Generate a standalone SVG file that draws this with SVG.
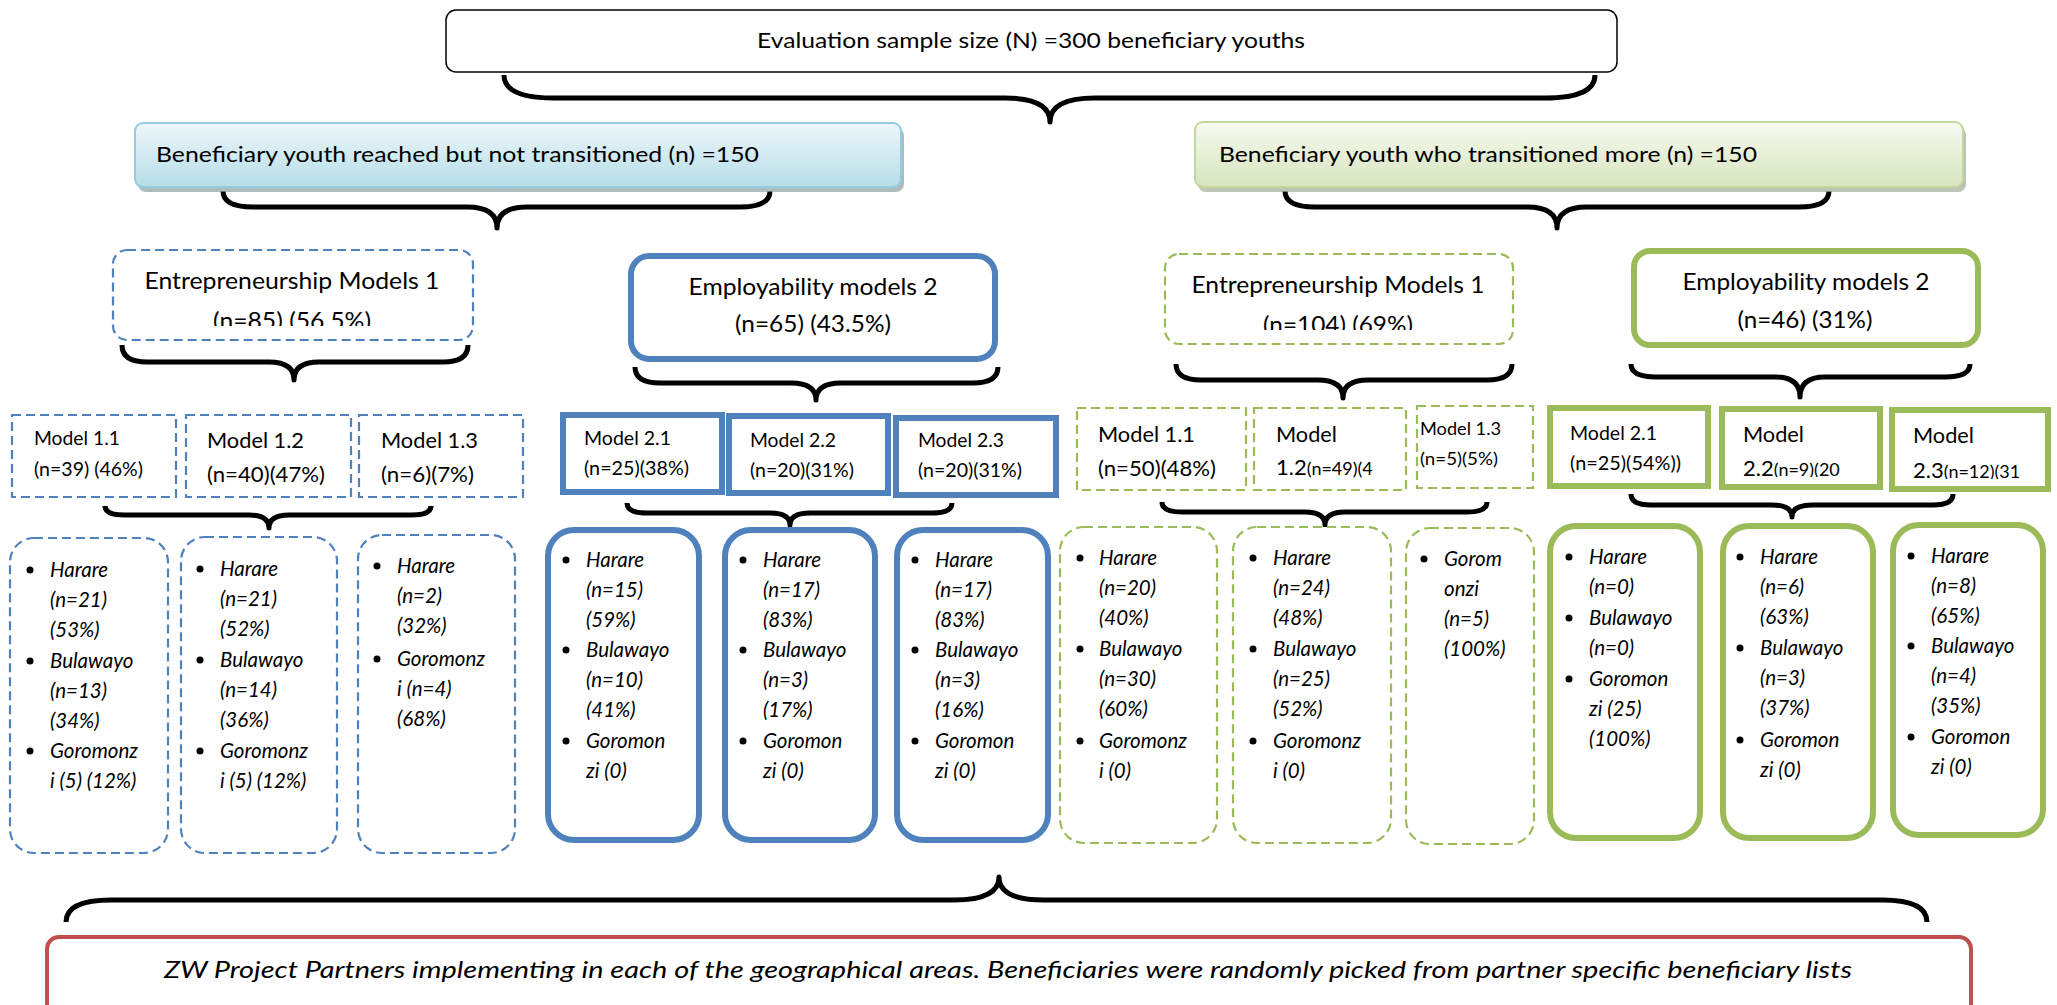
<svg xmlns="http://www.w3.org/2000/svg" width="2057" height="1005" viewBox="0 0 2057 1005">
  <style>
    text { font-family: Lato, "Liberation Sans", sans-serif; fill: #000; }
    .t23 { font-size: 22px; }
    .t26 { font-size: 24px; }
    .m21 { font-size: 19.5px; }
    .m23 { font-size: 22px; }
    .m19 { font-size: 18px; }
    .leaf { font-size: 20.5px; font-style: italic; }
    .foot { font-size: 24px; font-style: italic; }
    .mid { text-anchor: middle; }
    .brace { fill: none; stroke: #000; stroke-width: 5; stroke-linejoin: round; }
    .blue-dash { fill: #fff; stroke: #4f81bd; stroke-width: 2.2; stroke-dasharray: 9 5; }
    .blue-solid { fill: #fff; stroke: #4f81bd; stroke-width: 6; }
    .green-dash { fill: #fff; stroke: #9bbb59; stroke-width: 2.2; stroke-dasharray: 9 5; }
    .green-solid { fill: #fff; stroke: #9bbb59; stroke-width: 6; }
    .bullet { fill: #000; }
  </style>
  <defs>
    <linearGradient id="gBlue" x1="0" y1="0" x2="0" y2="1">
      <stop offset="0" stop-color="#eef7fa"/>
      <stop offset="1" stop-color="#b6dde8"/>
    </linearGradient>
    <linearGradient id="gGreen" x1="0" y1="0" x2="0" y2="1">
      <stop offset="0" stop-color="#f7faf1"/>
      <stop offset="1" stop-color="#d7e4bd"/>
    </linearGradient>
    <clipPath id="clipEntL"><rect x="113" y="250" width="360" height="76"/></clipPath>
    <clipPath id="clipEntR"><rect x="1165" y="254" width="348" height="76"/></clipPath>
    <clipPath id="clipM22g"><rect x="1722" y="409" width="158" height="68"/></clipPath>
    <clipPath id="clipM23g"><rect x="1892" y="410" width="156" height="69"/></clipPath>
  </defs>

  <!-- connectors: curly braces -->
  <g id="connectors">
    <path class="brace" stroke-width="6" d="M504 75 Q504 98 554 98 L1005 98 Q1050 98 1050 122 Q1050 98 1095 98 L1545 98 Q1595 98 1595 75"/>
    <path class="brace" d="M223 191 Q223 207 253 207 L467 207 Q497 207 497 228 Q497 207 527 207 L740 207 Q770 207 770 191"/>
    <path class="brace" d="M1285 191 Q1285 207 1315 207 L1527 207 Q1557 207 1557 228 Q1557 207 1587 207 L1799 207 Q1829 207 1829 191"/>
    <path class="brace" d="M122 345 Q122 362 147 362 L269 362 Q294 362 294 380 Q294 362 319 362 L443 362 Q468 362 468 345"/>
    <path class="brace" d="M635 367 Q635 383 660 383 L791 383 Q816 383 816 400 Q816 383 841 383 L973 383 Q998 383 998 367"/>
    <path class="brace" d="M1176 364 Q1176 380 1201 380 L1318 380 Q1343 380 1343 398 Q1343 380 1368 380 L1487 380 Q1512 380 1512 364"/>
    <path class="brace" d="M1631 364 Q1631 377 1656 377 L1775 377 Q1800 377 1800 397 Q1800 377 1825 377 L1945 377 Q1970 377 1970 364"/>
    <path class="brace" d="M105 506 Q105 515 125 515 L249 515 Q269 515 269 528 Q269 515 289 515 L411 515 Q431 515 431 506"/>
    <path class="brace" d="M627 503 Q627 513 647 513 L770 513 Q790 513 790 525 Q790 513 810 513 L932 513 Q952 513 952 503"/>
    <path class="brace" d="M1162 502 Q1162 512 1182 512 L1305 512 Q1325 512 1325 525 Q1325 512 1345 512 L1467 512 Q1487 512 1487 502"/>
    <path class="brace" d="M1631 494 Q1631 505 1651 505 L1772 505 Q1792 505 1792 517 Q1792 505 1812 505 L1933 505 Q1953 505 1953 494"/>
    <path class="brace" stroke-width="6" d="M66 922 Q66 900 111 900 L954 900 Q999 900 999 877 Q999 900 1044 900 L1882 900 Q1927 900 1927 922"/>
  </g>

  <!-- root -->
  <g id="sample">
    <rect x="446" y="10" width="1171" height="62" rx="10" fill="#fff" stroke="#000" stroke-width="1.5"/>
    <text class="t23 mid" x="1031" y="48" textLength="548" lengthAdjust="spacingAndGlyphs">Evaluation sample size (N) =300 beneficiary youths</text>
  </g>

  <!-- second level -->
  <g id="not-transitioned">
    <rect x="138" y="128" width="766" height="64" rx="8" fill="#8f9ea3" opacity="0.7"/>
    <rect x="135" y="123" width="766" height="64" rx="8" fill="url(#gBlue)" stroke="#93cddd" stroke-width="2"/>
    <text class="t23" x="156" y="162" textLength="603" lengthAdjust="spacingAndGlyphs">Beneficiary youth reached but not transitioned (n) =150</text>
  </g>
  <g id="transitioned">
    <rect x="1198" y="127" width="768" height="65" rx="8" fill="#a3a99a" opacity="0.7"/>
    <rect x="1195" y="122" width="768" height="65" rx="8" fill="url(#gGreen)" stroke="#c3d69b" stroke-width="2"/>
    <text class="t23" x="1219" y="162" textLength="538" lengthAdjust="spacingAndGlyphs">Beneficiary youth who transitioned more (n) =150</text>
  </g>

  <!-- third level: blue side -->
  <g id="ent-left">
    <rect class="blue-dash" x="113" y="250" width="360" height="90" rx="14"/>
    <g clip-path="url(#clipEntL)">
      <text class="t26 mid" x="292" y="289" textLength="295" lengthAdjust="spacingAndGlyphs">Entrepreneurship Models 1</text>
      <text class="t26 mid" x="292" y="329" textLength="158" lengthAdjust="spacingAndGlyphs">(n=85) (56.5%)</text>
    </g>
  </g>
  <g id="emp-left">
    <rect class="blue-solid" x="631" y="256" width="364" height="103" rx="18"/>
    <text class="t26 mid" x="813" y="295" textLength="249" lengthAdjust="spacingAndGlyphs">Employability models 2</text>
    <text class="t26 mid" x="813" y="332" textLength="156" lengthAdjust="spacingAndGlyphs">(n=65) (43.5%)</text>
  </g>

  <!-- third level: green side -->
  <g id="ent-right">
    <rect class="green-dash" x="1165" y="254" width="348" height="90" rx="14"/>
    <g clip-path="url(#clipEntR)">
      <text class="t26 mid" x="1338" y="293" textLength="293" lengthAdjust="spacingAndGlyphs">Entrepreneurship Models 1</text>
      <text class="t26 mid" x="1338" y="333" textLength="150" lengthAdjust="spacingAndGlyphs">(n=104) (69%)</text>
    </g>
  </g>
  <g id="emp-right">
    <rect class="green-solid" x="1634" y="251" width="344" height="94" rx="16"/>
    <text class="t26 mid" x="1806" y="290" textLength="247" lengthAdjust="spacingAndGlyphs">Employability models 2</text>
    <text class="t26 mid" x="1805" y="328" textLength="135" lengthAdjust="spacingAndGlyphs">(n=46) (31%)</text>
  </g>

  <!-- models: blue entrepreneurship -->
  <g id="b-m11">
    <rect class="blue-dash" x="12" y="415" width="164" height="82"/>
    <text class="m21" x="34" y="445" textLength="86" lengthAdjust="spacingAndGlyphs">Model 1.1</text>
    <text class="m21" x="34" y="476" textLength="109" lengthAdjust="spacingAndGlyphs">(n=39) (46%)</text>
  </g>
  <g id="b-m12">
    <rect class="blue-dash" x="186" y="415" width="165" height="82"/>
    <text class="m23" x="207" y="448" textLength="97" lengthAdjust="spacingAndGlyphs">Model 1.2</text>
    <text class="m23" x="207" y="482" textLength="118" lengthAdjust="spacingAndGlyphs">(n=40)(47%)</text>
  </g>
  <g id="b-m13">
    <rect class="blue-dash" x="359" y="415" width="164" height="82"/>
    <text class="m23" x="381" y="448" textLength="97" lengthAdjust="spacingAndGlyphs">Model 1.3</text>
    <text class="m23" x="381" y="482" textLength="93" lengthAdjust="spacingAndGlyphs">(n=6)(7%)</text>
  </g>

  <!-- models: blue employability -->
  <g id="b-m21">
    <rect class="blue-solid" x="563" y="415" width="159" height="77"/>
    <text class="m21" x="584" y="445" textLength="87" lengthAdjust="spacingAndGlyphs">Model 2.1</text>
    <text class="m21" x="584" y="475" textLength="105" lengthAdjust="spacingAndGlyphs">(n=25)(38%)</text>
  </g>
  <g id="b-m22">
    <rect class="blue-solid" x="729" y="416" width="159" height="77"/>
    <text class="m21" x="750" y="447" textLength="86" lengthAdjust="spacingAndGlyphs">Model 2.2</text>
    <text class="m21" x="750" y="477" textLength="104" lengthAdjust="spacingAndGlyphs">(n=20)(31%)</text>
  </g>
  <g id="b-m23">
    <rect class="blue-solid" x="896" y="418" width="160" height="77"/>
    <text class="m21" x="918" y="447" textLength="86" lengthAdjust="spacingAndGlyphs">Model 2.3</text>
    <text class="m21" x="918" y="477" textLength="104" lengthAdjust="spacingAndGlyphs">(n=20)(31%)</text>
  </g>

  <!-- models: green entrepreneurship -->
  <g id="g-m11">
    <rect class="green-dash" x="1077" y="408" width="169" height="82"/>
    <text class="m23" x="1098" y="442" textLength="97" lengthAdjust="spacingAndGlyphs">Model 1.1</text>
    <text class="m23" x="1098" y="476" textLength="118" lengthAdjust="spacingAndGlyphs">(n=50)(48%)</text>
  </g>
  <g id="g-m12">
    <rect class="green-dash" x="1254" y="408" width="152" height="82"/>
    <text class="m23" x="1276" y="442" textLength="61" lengthAdjust="spacingAndGlyphs">Model</text>
    <text x="1276" y="475"><tspan class="m23">1.2</tspan><tspan class="m19">(n=49)(4</tspan></text>
  </g>
  <g id="g-m13">
    <rect class="green-dash" x="1417" y="406" width="116" height="82"/>
    <text class="m19" x="1420" y="435" textLength="81" lengthAdjust="spacingAndGlyphs">Model 1.3</text>
    <text class="m19" x="1420" y="465" textLength="78" lengthAdjust="spacingAndGlyphs">(n=5)(5%)</text>
  </g>

  <!-- models: green employability -->
  <g id="g-m21">
    <rect class="green-solid" x="1550" y="408" width="158" height="78"/>
    <text class="m21" x="1570" y="440" textLength="87" lengthAdjust="spacingAndGlyphs">Model 2.1</text>
    <text class="m21" x="1570" y="470" textLength="111" lengthAdjust="spacingAndGlyphs">(n=25)(54%))</text>
  </g>
  <g id="g-m22">
    <rect class="green-solid" x="1722" y="409" width="158" height="78"/>
    <g clip-path="url(#clipM22g)">
      <text class="m23" x="1743" y="442" textLength="61" lengthAdjust="spacingAndGlyphs">Model</text>
      <text x="1743" y="476"><tspan class="m23">2.2</tspan><tspan class="m19">(n=9)(20</tspan></text>
    </g>
  </g>
  <g id="g-m23">
    <rect class="green-solid" x="1892" y="410" width="156" height="79"/>
    <g clip-path="url(#clipM23g)">
      <text class="m23" x="1913" y="443" textLength="61" lengthAdjust="spacingAndGlyphs">Model</text>
      <text x="1913" y="478"><tspan class="m23">2.3</tspan><tspan class="m19">(n=12)(31</tspan></text>
    </g>
  </g>

  <!-- area breakdowns: blue entrepreneurship -->
  <g id="b-area11">
    <rect class="blue-dash" x="10" y="538" width="158" height="315" rx="24"/>
    <circle class="bullet" cx="30" cy="570" r="3.5"/><circle class="bullet" cx="30" cy="661" r="3.5"/><circle class="bullet" cx="30" cy="751" r="3.5"/>
    <text class="leaf"><tspan x="50" y="577">Harare</tspan><tspan x="50" y="607">(n=21)</tspan><tspan x="50" y="637">(53%)</tspan><tspan x="50" y="668">Bulawayo</tspan><tspan x="50" y="698">(n=13)</tspan><tspan x="50" y="728">(34%)</tspan><tspan x="50" y="758">Goromonz</tspan><tspan x="50" y="788">i (5) (12%)</tspan></text>
  </g>
  <g id="b-area12">
    <rect class="blue-dash" x="181" y="537" width="156" height="316" rx="24"/>
    <circle class="bullet" cx="200" cy="569" r="3.5"/><circle class="bullet" cx="200" cy="660" r="3.5"/><circle class="bullet" cx="200" cy="751" r="3.5"/>
    <text class="leaf"><tspan x="220" y="576">Harare</tspan><tspan x="220" y="606">(n=21)</tspan><tspan x="220" y="636">(52%)</tspan><tspan x="220" y="667">Bulawayo</tspan><tspan x="220" y="697">(n=14)</tspan><tspan x="220" y="727">(36%)</tspan><tspan x="220" y="758">Goromonz</tspan><tspan x="220" y="788">i (5) (12%)</tspan></text>
  </g>
  <g id="b-area13">
    <rect class="blue-dash" x="358" y="535" width="157" height="318" rx="24"/>
    <circle class="bullet" cx="377" cy="566" r="3.5"/><circle class="bullet" cx="377" cy="659" r="3.5"/>
    <text class="leaf"><tspan x="397" y="573">Harare</tspan><tspan x="397" y="603">(n=2)</tspan><tspan x="397" y="633">(32%)</tspan><tspan x="397" y="666">Goromonz</tspan><tspan x="397" y="696">i (n=4)</tspan><tspan x="397" y="726">(68%)</tspan></text>
  </g>

  <!-- area breakdowns: blue employability -->
  <g id="b-area21">
    <rect class="blue-solid" x="548" y="530" width="151" height="310" rx="26"/>
    <circle class="bullet" cx="566" cy="560" r="3.5"/><circle class="bullet" cx="566" cy="650" r="3.5"/><circle class="bullet" cx="566" cy="741" r="3.5"/>
    <text class="leaf"><tspan x="586" y="567">Harare</tspan><tspan x="586" y="597">(n=15)</tspan><tspan x="586" y="627">(59%)</tspan><tspan x="586" y="657">Bulawayo</tspan><tspan x="586" y="687">(n=10)</tspan><tspan x="586" y="717">(41%)</tspan><tspan x="586" y="748">Goromon</tspan><tspan x="586" y="778">zi (0)</tspan></text>
  </g>
  <g id="b-area22">
    <rect class="blue-solid" x="725" y="530" width="150" height="310" rx="26"/>
    <circle class="bullet" cx="743" cy="560" r="3.5"/><circle class="bullet" cx="743" cy="650" r="3.5"/><circle class="bullet" cx="743" cy="741" r="3.5"/>
    <text class="leaf"><tspan x="763" y="567">Harare</tspan><tspan x="763" y="597">(n=17)</tspan><tspan x="763" y="627">(83%)</tspan><tspan x="763" y="657">Bulawayo</tspan><tspan x="763" y="687">(n=3)</tspan><tspan x="763" y="717">(17%)</tspan><tspan x="763" y="748">Goromon</tspan><tspan x="763" y="778">zi (0)</tspan></text>
  </g>
  <g id="b-area23">
    <rect class="blue-solid" x="897" y="530" width="151" height="310" rx="26"/>
    <circle class="bullet" cx="915" cy="560" r="3.5"/><circle class="bullet" cx="915" cy="650" r="3.5"/><circle class="bullet" cx="915" cy="741" r="3.5"/>
    <text class="leaf"><tspan x="935" y="567">Harare</tspan><tspan x="935" y="597">(n=17)</tspan><tspan x="935" y="627">(83%)</tspan><tspan x="935" y="657">Bulawayo</tspan><tspan x="935" y="687">(n=3)</tspan><tspan x="935" y="717">(16%)</tspan><tspan x="935" y="748">Goromon</tspan><tspan x="935" y="778">zi (0)</tspan></text>
  </g>

  <!-- area breakdowns: green entrepreneurship -->
  <g id="g-area11">
    <rect class="green-dash" x="1060" y="527" width="157" height="316" rx="24"/>
    <circle class="bullet" cx="1080" cy="558" r="3.5"/><circle class="bullet" cx="1080" cy="649" r="3.5"/><circle class="bullet" cx="1080" cy="741" r="3.5"/>
    <text class="leaf"><tspan x="1099" y="565">Harare</tspan><tspan x="1099" y="595">(n=20)</tspan><tspan x="1099" y="625">(40%)</tspan><tspan x="1099" y="656">Bulawayo</tspan><tspan x="1099" y="686">(n=30)</tspan><tspan x="1099" y="716">(60%)</tspan><tspan x="1099" y="748">Goromonz</tspan><tspan x="1099" y="778">i (0)</tspan></text>
  </g>
  <g id="g-area12">
    <rect class="green-dash" x="1233" y="527" width="158" height="316" rx="24"/>
    <circle class="bullet" cx="1253" cy="558" r="3.5"/><circle class="bullet" cx="1253" cy="649" r="3.5"/><circle class="bullet" cx="1253" cy="741" r="3.5"/>
    <text class="leaf"><tspan x="1273" y="565">Harare</tspan><tspan x="1273" y="595">(n=24)</tspan><tspan x="1273" y="625">(48%)</tspan><tspan x="1273" y="656">Bulawayo</tspan><tspan x="1273" y="686">(n=25)</tspan><tspan x="1273" y="716">(52%)</tspan><tspan x="1273" y="748">Goromonz</tspan><tspan x="1273" y="778">i (0)</tspan></text>
  </g>
  <g id="g-area13">
    <rect class="green-dash" x="1406" y="528" width="128" height="316" rx="24"/>
    <circle class="bullet" cx="1424" cy="559" r="3.5"/>
    <text class="leaf"><tspan x="1444" y="566">Gorom</tspan><tspan x="1444" y="596">onzi</tspan><tspan x="1444" y="626">(n=5)</tspan><tspan x="1444" y="656">(100%)</tspan></text>
  </g>

  <!-- area breakdowns: green employability -->
  <g id="g-area21">
    <rect class="green-solid" x="1550" y="526" width="150" height="312" rx="26"/>
    <circle class="bullet" cx="1569" cy="557" r="3.5"/><circle class="bullet" cx="1569" cy="618" r="3.5"/><circle class="bullet" cx="1569" cy="679" r="3.5"/>
    <text class="leaf"><tspan x="1589" y="564">Harare</tspan><tspan x="1589" y="594">(n=0)</tspan><tspan x="1589" y="625">Bulawayo</tspan><tspan x="1589" y="655">(n=0)</tspan><tspan x="1589" y="686">Goromon</tspan><tspan x="1589" y="716">zi (25)</tspan><tspan x="1589" y="746">(100%)</tspan></text>
  </g>
  <g id="g-area22">
    <rect class="green-solid" x="1723" y="526" width="150" height="312" rx="26"/>
    <circle class="bullet" cx="1740" cy="557" r="3.5"/><circle class="bullet" cx="1740" cy="648" r="3.5"/><circle class="bullet" cx="1740" cy="740" r="3.5"/>
    <text class="leaf"><tspan x="1760" y="564">Harare</tspan><tspan x="1760" y="594">(n=6)</tspan><tspan x="1760" y="624">(63%)</tspan><tspan x="1760" y="655">Bulawayo</tspan><tspan x="1760" y="685">(n=3)</tspan><tspan x="1760" y="715">(37%)</tspan><tspan x="1760" y="747">Goromon</tspan><tspan x="1760" y="777">zi (0)</tspan></text>
  </g>
  <g id="g-area23">
    <rect class="green-solid" x="1893" y="525" width="150" height="310" rx="26"/>
    <circle class="bullet" cx="1911" cy="556" r="3.5"/><circle class="bullet" cx="1911" cy="646" r="3.5"/><circle class="bullet" cx="1911" cy="737" r="3.5"/>
    <text class="leaf"><tspan x="1931" y="563">Harare</tspan><tspan x="1931" y="593">(n=8)</tspan><tspan x="1931" y="623">(65%)</tspan><tspan x="1931" y="653">Bulawayo</tspan><tspan x="1931" y="683">(n=4)</tspan><tspan x="1931" y="713">(35%)</tspan><tspan x="1931" y="744">Goromon</tspan><tspan x="1931" y="774">zi (0)</tspan></text>
  </g>

  <!-- implementing partners -->
  <g id="partners">
    <rect x="47" y="937" width="1924" height="85" rx="12" fill="#fff" stroke="#c0504d" stroke-width="4"/>
    <text class="foot mid" x="1008" y="978" textLength="1688" lengthAdjust="spacingAndGlyphs">ZW Project Partners implementing in each of the geographical areas. Beneficiaries were randomly picked from partner specific beneficiary lists</text>
  </g>
</svg>
